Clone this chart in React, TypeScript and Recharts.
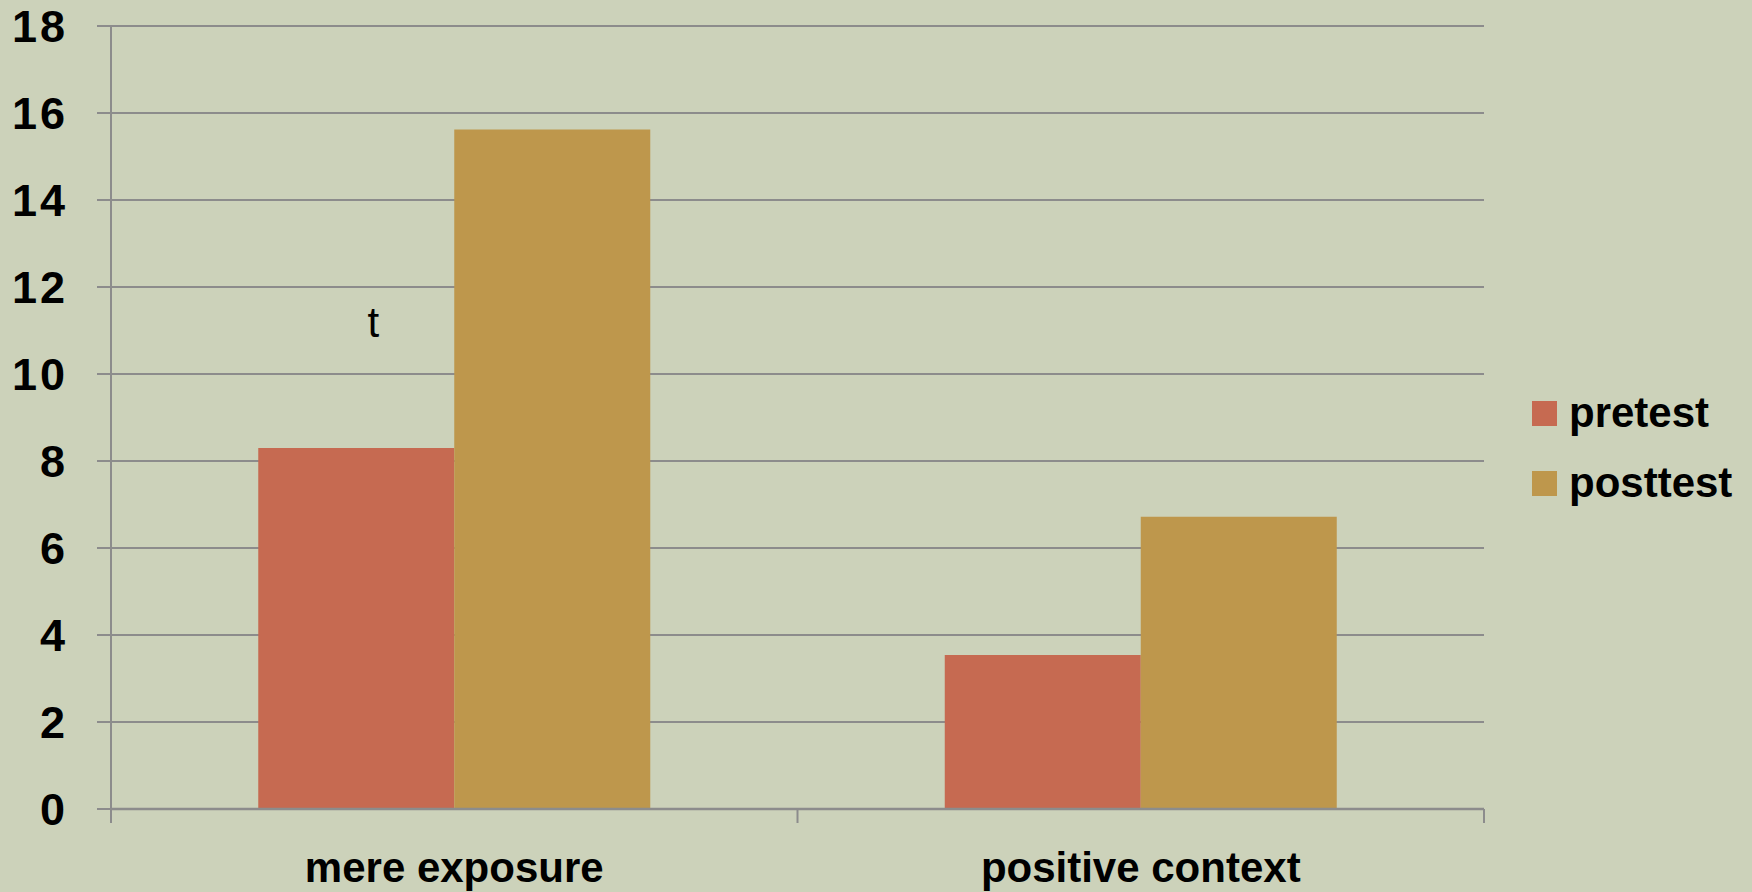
import React from "react";
import { BarChart, Bar, XAxis, YAxis, CartesianGrid, Legend, ReferenceDot } from "recharts";

const categories = ["mere exposure", "positive context"];
const pretest = [8.3, 3.54];
const posttest = [15.62, 6.72];
const yTicks = [0, 2, 4, 6, 8, 10, 12, 14, 16, 18];
const seriesNames = ["pretest", "posttest"];
const seriesColors = ["#C66A51", "#BE974C"];
const note = { category: "mere exposure", value: 11.2, text: "t" };

const data = categories.map((c, i) => ({ name: c, pretest: pretest[i], posttest: posttest[i] }));

const FONT = '"Liberation Sans", Arial, sans-serif';
const AXIS = "#8c8c8c";

function XTick(props: any) {
  const { x, y, payload, index, visibleTicksCount, width } = props;
  const band = (width || 1373) / (visibleTicksCount || 2);
  const axisY = y - 22;
  return (
    <g>
      <line x1={x - band / 2} x2={x - band / 2} y1={axisY} y2={axisY + 14} stroke={AXIS} strokeWidth={2} />
      {index === visibleTicksCount - 1 && (
        <line x1={x + band / 2} x2={x + band / 2} y1={axisY} y2={axisY + 14} stroke={AXIS} strokeWidth={2} />
      )}
      <text x={x} y={y} dy={51} textAnchor="middle" fontSize={42} fontWeight="bold" fill="#000" fontFamily={FONT}>
        {payload.value}
      </text>
    </g>
  );
}

function LegendBox() {
  return (
    <div style={{ paddingLeft: 48, paddingTop: 4, fontFamily: FONT }}>
      {seriesNames.map((n, i) => (
        <div key={n} style={{ height: 70, display: "flex", alignItems: "center" }}>
          <div style={{ width: 25, height: 25, background: seriesColors[i], marginRight: 12 }} />
          <span style={{ fontSize: 42, fontWeight: "bold", color: "#000" }}>{n}</span>
        </div>
      ))}
    </div>
  );
}

export default function App() {
  return (
    <div style={{ position: "fixed", left: 0, top: 0, width: 1752, height: 892, background: "#CCD2BA" }}>
      <BarChart
        width={1752}
        height={892}
        data={data}
        margin={{ top: 26, right: 0, left: 0, bottom: 0 }}
        barGap={0}
        barCategoryGap="21.45%"
      >
        <CartesianGrid vertical={false} stroke={AXIS} strokeWidth={2} />
        <XAxis
          dataKey="name"
          height={83}
          stroke={AXIS}
          strokeWidth={2.5}
          tickSize={14}
          tickMargin={8}
          tickLine={{ stroke: "none" }}
          tick={<XTick />}
          interval={0}
        />
        <YAxis
          width={111}
          domain={[0, 18]}
          ticks={yTicks}
          interval={0}
          stroke={AXIS}
          strokeWidth={2}
          tickSize={14}
          tickMargin={29}
          tick={{ fontSize: 45, fontWeight: "bold", fill: "#000", fontFamily: FONT, letterSpacing: 3 }}
        />
        <Legend
          layout="vertical"
          align="right"
          verticalAlign="middle"
          wrapperStyle={{ width: 268 }}
          content={<LegendBox />}
        />
        <Bar dataKey="pretest" name="pretest" fill={seriesColors[0]} isAnimationActive={false} />
        <Bar dataKey="posttest" name="posttest" fill={seriesColors[1]} isAnimationActive={false} />
        <ReferenceDot
          x={note.category}
          y={note.value}
          r={0}
          stroke="none"
          label={{ value: note.text, position: "center", dx: -81, fontSize: 42, fill: "#000", fontFamily: FONT }}
        />
      </BarChart>
    </div>
  );
}
